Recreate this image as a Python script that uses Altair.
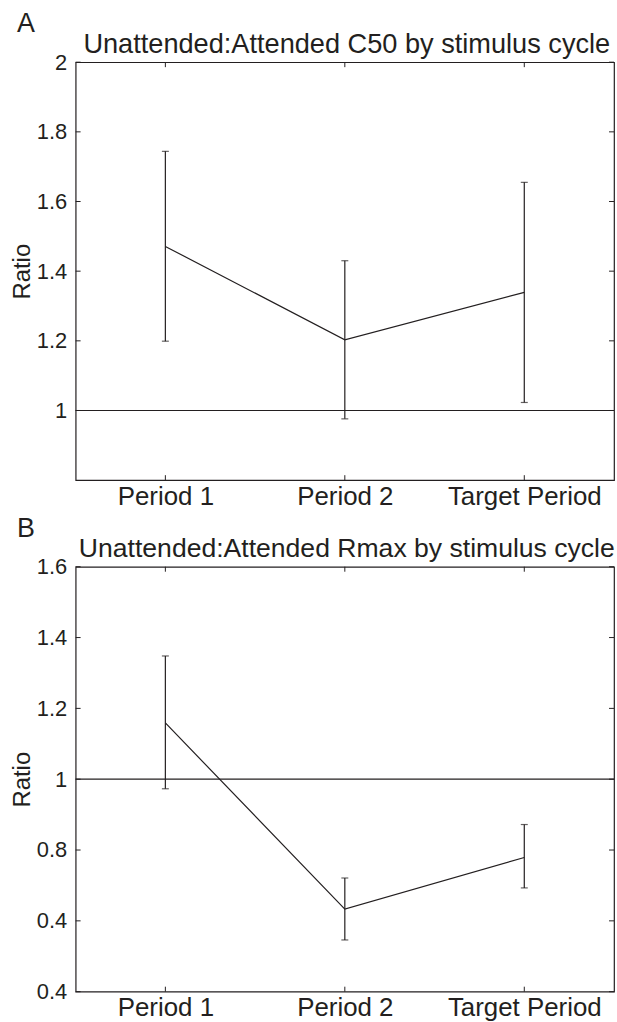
import altair as alt
import pandas as pd

# ---- data ----
categories = ["Period 1", "Period 2", "Target Period"]
positions = [1, 2, 3]

c50_mean = [1.471, 1.203, 1.339]
c50_low = [1.199, 0.976, 1.023]
c50_high = [1.744, 1.430, 1.655]

rmax_mean = [1.159, 0.633, 0.779]
rmax_low = [0.973, 0.546, 0.693]
rmax_high = [1.348, 0.721, 0.872]

c50_ticks = [1, 1.2, 1.4, 1.6, 1.8, 2]
c50_tick_labels = ["1", "1.2", "1.4", "1.6", "1.8", "2"]
rmax_ticks = [0.4, 0.6, 0.8, 1, 1.2, 1.4, 1.6]
rmax_tick_labels = ["0.4", "0.4", "0.8", "1", "1.2", "1.4", "1.6"]

FONT = "Liberation Sans"
INK = "#231f20"
PW = 541


def js_list(items):
    return "[" + ",".join(repr(i) for i in items) + "]"


def panel(mean, low, high, ticks, tick_labels, ymin, ymax, title, letter, height,
          letter_y, title_y, title_size):
    df = pd.DataFrame({"pos": positions, "cat": categories,
                       "mean": mean, "low": low, "high": high})
    tdf = pd.DataFrame({"t": ticks})
    xs = alt.Scale(domain=[0.5, 3.5], nice=False, zero=False)
    ys = alt.Scale(domain=[ymin, ymax], nice=False, zero=False)
    xaxis = alt.Axis(values=positions,
                     labelExpr=js_list(categories) + "[datum.value-1]",
                     title=None, domain=False, ticks=False, grid=False,
                     labelFont=FONT, labelFontSize=26, labelColor=INK,
                     labelPadding=3, labelFlush=False)
    yaxis = alt.Axis(values=ticks,
                     labelExpr=js_list(tick_labels) + "[indexof(" + js_list(ticks) + ", datum.value)]",
                     title="Ratio", domain=False, ticks=False, grid=False,
                     labelFont=FONT, labelFontSize=22, labelColor=INK,
                     labelPadding=9, labelFlush=False,
                     titleFont=FONT, titleFontSize=24, titleFontWeight="normal",
                     titleColor=INK, titlePadding=2)
    base = alt.Chart(df)
    line = base.mark_line(color=INK, strokeWidth=1.2).encode(
        x=alt.X("pos:Q", scale=xs, axis=xaxis),
        y=alt.Y("mean:Q", scale=ys, axis=yaxis),
    )
    err = base.mark_rule(color=INK, strokeWidth=1.2).encode(
        x="pos:Q", y="low:Q", y2="high:Q")
    cap_lo = base.mark_tick(color=INK, orient="horizontal", size=7, thickness=1.2).encode(
        x="pos:Q", y="low:Q")
    cap_hi = base.mark_tick(color=INK, orient="horizontal", size=7, thickness=1.2).encode(
        x="pos:Q", y="high:Q")
    ref = alt.Chart(pd.DataFrame({"r": [1]})).mark_rule(color=INK, strokeWidth=1.2).encode(
        y="r:Q")
    tick_l = alt.Chart(tdf).mark_rule(color=INK, strokeWidth=1, x2Offset=5).encode(
        x=alt.datum(0.5), x2=alt.datum(0.5), y="t:Q")
    tick_r = alt.Chart(tdf).mark_rule(color=INK, strokeWidth=1, x2Offset=-5).encode(
        x=alt.datum(3.5), x2=alt.datum(3.5), y="t:Q")
    tick_b = base.mark_rule(color=INK, strokeWidth=1, y2Offset=-5).encode(
        x="pos:Q", y=alt.datum(ymin), y2=alt.datum(ymin))
    tick_t = base.mark_rule(color=INK, strokeWidth=1, y2Offset=5).encode(
        x="pos:Q", y=alt.datum(ymax), y2=alt.datum(ymax))
    labels = pd.DataFrame({"l": [letter], "t": [title]})
    let = alt.Chart(labels).mark_text(
        font=FONT, fontSize=27, color=INK, align="left", baseline="alphabetic").encode(
        text="l:N", x=alt.value(-59), y=alt.value(letter_y))
    ttl = alt.Chart(labels).mark_text(
        font=FONT, fontSize=title_size, color=INK, align="center", baseline="alphabetic").encode(
        text="t:N", x=alt.value(272.5), y=alt.value(title_y))
    return alt.layer(ref, err, cap_lo, cap_hi, line, tick_l, tick_r, tick_b, tick_t, let, ttl).properties(
        width=PW, height=height,
    )


top = panel(c50_mean, c50_low, c50_high, c50_ticks, c50_tick_labels, 0.8, 2.0,
            "Unattended:Attended C50 by stimulus cycle", "A", 420, -30, -9, 27.3)
bottom = panel(rmax_mean, rmax_low, rmax_high, rmax_ticks, rmax_tick_labels, 0.4, 1.6,
               "Unattended:Attended Rmax by stimulus cycle", "B", 427, -30, -10, 26.7)

chart = alt.vconcat(top, bottom, spacing=4).properties(
    padding={"left": 9, "top": 7, "right": 1, "bottom": 0},
    background="white",
).configure_view(stroke=INK, strokeWidth=1.2)

chart.save("out.html", embed_options={"renderer": "svg", "actions": False})
